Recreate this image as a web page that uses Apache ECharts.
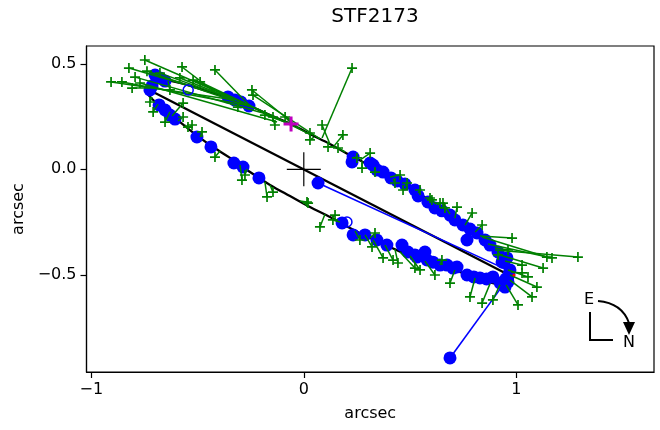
<!DOCTYPE html>
<html>
<head>
<meta charset="utf-8">
<script src="https://cdn.jsdelivr.net/npm/echarts@6/dist/echarts.min.js"></script>
<style>
  html, body { margin: 0; padding: 0; background: #fff; }
  #chart { width: 660px; height: 430px; }
</style>
</head>
<body>
<div id="chart"></div>
<script>
// STF2173 relative orbit, offsets in arcsec

// computed orbit (closed curve)
const orbitX = [-0.743, -0.728, -0.700, -0.653, -0.583, -0.488, -0.347, -0.253, -0.159, -0.060,
  0.029, 0.123, 0.232, 0.335, 0.429, 0.523, 0.617, 0.688, 0.759, 0.829, 0.900, 0.947, 0.975,
  0.984, 0.970, 0.937, 0.890, 0.843, 0.782, 0.688, 0.594, 0.500, 0.406, 0.312, 0.217, 0.123,
  0.029, -0.065, -0.159, -0.253, -0.347, -0.441, -0.536, -0.606, -0.667, -0.714, -0.743];
const orbitY = [0.371, 0.400, 0.418, 0.423, 0.409, 0.381, 0.338, 0.300, 0.257, 0.215,
  0.167, 0.120, 0.058, 0.006, -0.051, -0.103, -0.165, -0.212, -0.264, -0.316, -0.373, -0.420, -0.468,
  -0.510, -0.539, -0.548, -0.539, -0.525, -0.501, -0.473, -0.444, -0.411, -0.368, -0.326, -0.278, -0.226,
  -0.179, -0.127, -0.074, -0.013, 0.054, 0.115, 0.186, 0.243, 0.295, 0.333, 0.371];

// line of nodes
const nodeX = [-0.720, 0.970];
const nodeY = [0.372, -0.503];

// micrometric measures and their computed positions
const visX = [-0.748, -0.907, -0.856, -0.823, -0.794, -0.573, -0.418, -0.521, -0.488, -0.583,
  -0.630, -0.808, -0.724, -0.568, -0.709, -0.653, -0.568, -0.545, -0.479, -0.244,
  -0.239, -0.310, -0.145, -0.136, -0.183, -0.088, 0.227, 0.029, 0.029, 0.086,
  0.184, 0.114, 0.161, 0.312, 0.250, 0.274, 0.335, 0.453, 0.429, 0.486,
  0.467, 0.547, 0.594, 0.641, 0.664, 0.603, 0.721, 0.792, 0.839, 0.655,
  0.980, 0.961, 0.914, 1.144, 1.168, 1.126, 1.027, 1.055, 1.097, 1.074,
  1.008, 0.890, 0.839, 0.688, 0.650, 1.027, 1.290, 0.782, 0.020, 0.076,
  0.147, 0.137, 0.264, 0.335, 0.321, 0.373, 0.420, 0.443, 0.523, 0.547,
  0.617, -0.526, -0.418, -0.291, -0.277, -0.173, -0.145, 0.015, -0.677, -0.771,
  -0.738];
const visY = [0.518, 0.414, 0.414, 0.480, 0.437, 0.485, 0.471, 0.423, 0.414, 0.433,
  0.376, 0.385, 0.319, 0.314, 0.272, 0.224, 0.248, 0.200, 0.177, 0.376,
  0.352, 0.295, 0.248, 0.210, 0.257, 0.248, 0.480, 0.172, 0.139, 0.210,
  0.163, 0.106, 0.101, 0.077, 0.054, 0.006, -0.013, -0.027, -0.065, -0.065,
  -0.098, -0.098, -0.136, -0.160, -0.183, -0.145, -0.179, -0.207, -0.264, -0.160,
  -0.326, -0.382, -0.406, -0.416, -0.420, -0.468, -0.454, -0.510, -0.558, -0.605,
  -0.643, -0.619, -0.634, -0.539, -0.430, -0.491, -0.416, -0.605, -0.160, -0.273,
  -0.217, -0.240, -0.335, -0.302, -0.368, -0.420, -0.430, -0.444, -0.468, -0.477,
  -0.501, 0.210, 0.058, -0.051, -0.027, -0.131, -0.108, -0.155, 0.456, 0.409,
  0.465];
const visFitX = [-0.338, -0.324, -0.253, -0.488, -0.159, -0.418, -0.253, -0.065, 0.029, -0.347,
  -0.639, -0.724, -0.714, -0.620, -0.686, -0.630, -0.592, -0.559, -0.488, -0.018,
  0.076, -0.300, -0.168, -0.150, -0.060, -0.056, 0.086, 0.043, 0.048, 0.123,
  0.142, 0.152, 0.194, 0.264, 0.236, 0.274, 0.335, 0.406, 0.420, 0.476,
  0.490, 0.538, 0.594, 0.627, 0.664, 0.622, 0.711, 0.759, 0.806, 0.688,
  0.829, 0.900, 0.923, 0.839, 0.867, 0.923, 0.947, 0.961, 0.970, 0.970,
  0.952, 0.923, 0.876, 0.711, 0.641, 0.975, 0.900, 0.806, 0.006, 0.100,
  0.137, 0.170, 0.241, 0.312, 0.288, 0.326, 0.382, 0.429, 0.453, 0.500,
  0.570, -0.545, -0.394, -0.300, -0.267, -0.183, -0.159, -0.018, -0.338, -0.126,
  -0.206];
const visFitY = [0.338, 0.328, 0.300, 0.381, 0.257, 0.366, 0.300, 0.215, 0.167, 0.338,
  0.418, 0.385, 0.343, 0.253, 0.309, 0.272, 0.229, 0.210, 0.153, 0.191,
  0.144, 0.319, 0.262, 0.253, 0.215, 0.215, 0.148, 0.162, 0.153, 0.120,
  0.110, 0.106, 0.082, 0.044, 0.058, 0.039, 0.006, -0.036, -0.046, -0.079,
  -0.089, -0.112, -0.150, -0.169, -0.198, -0.165, -0.231, -0.264, -0.297, -0.212,
  -0.316, -0.373, -0.396, -0.321, -0.354, -0.406, -0.435, -0.477, -0.501, -0.525,
  -0.548, -0.548, -0.543, -0.477, -0.454, -0.487, -0.382, -0.515, -0.169, -0.212,
  -0.226, -0.250, -0.292, -0.326, -0.311, -0.335, -0.359, -0.378, -0.392, -0.411,
  -0.435, 0.196, 0.087, 0.020, 0.001, -0.060, -0.074, -0.150, 0.333, 0.224,
  0.281];

// interferometric measures
const spkX = [-0.700, -0.677, -0.653, -0.724, -0.714, -0.357, -0.324, -0.296, -0.258,
  0.232, 0.227, 0.312, 0.326, 0.344, 0.373, 0.410, 0.439, 0.476, 0.523, 0.538, 0.584, 0.617,
  0.650, 0.688, 0.711, 0.749, 0.782, 0.768, 0.815, 0.853, 0.876, 0.914, 0.933, 0.956, 0.970,
  0.961, 0.947, 0.890, 0.829, 0.768, 0.721, 0.702, 0.674, 0.641, 0.608, 0.580, 0.570, 0.532,
  0.523, 0.490, 0.462, 0.391, 0.344, 0.288, 0.232, 0.180, 0.937, 0.965, 0.950, 0.925, 0.860,
  0.800,
  -0.681, -0.653, -0.630, -0.606, -0.503, -0.437, -0.329, -0.286, -0.211,
  0.067, 0.688];
const spkY = [0.447, 0.433, 0.418, 0.376, 0.395, 0.343, 0.328, 0.319, 0.300,
  0.058, 0.035, 0.030, 0.020, -0.003, -0.013, -0.041, -0.055, -0.070, -0.098, -0.126, -0.155, -0.183,
  -0.197, -0.217, -0.240, -0.264, -0.283, -0.335, -0.302, -0.335, -0.359, -0.392, -0.439, -0.420, -0.477,
  -0.534, -0.558, -0.510, -0.515, -0.501, -0.463, -0.468, -0.454, -0.454, -0.440, -0.430, -0.392, -0.416,
  -0.406, -0.392, -0.359, -0.359, -0.335, -0.311, -0.311, -0.254, -0.440, -0.500, -0.520, -0.540, -0.520,
  -0.510,
  0.305, 0.281, 0.257, 0.238, 0.153, 0.106, 0.030, 0.011, -0.041,
  -0.065, -0.894];

// large interferometric residuals (measure -> computed position)
const spkOutX = [0.067, 0.688];
const spkOutY = [-0.065, -0.894];
const spkOutFitX = [0.947, 0.928];
const spkOutFitY = [-0.472, -0.562];

// open circles
const openX = [-0.544, 0.203];
const openY = [0.376, -0.250];

// periastron marker and the small red point
const periX = [-0.060];
const periY = [0.215];
const redX = [0.989];
const redY = [-0.501];

// axis ticks
const xTicks = [-1, 0, 1];
const yTicks = [-0.5, 0, 0.5];

const FONT = 'DejaVu Sans';
const pair = (xs, ys) => xs.map((x, i) => [x, ys[i]]);
const segs = (x0, y0, x1, y1) => x0.map((x, i) => ({ coords: [[x, y0[i]], [x1[i], y1[i]]] }));
const minus = s => s.replace('-', '\u2212');

const plusThin = 'path://M-0.35,-10H0.35V-0.35H10V0.35H0.35V10H-0.35V0.35H-10V-0.35H-0.35Z';
const plusMid = 'path://M-1.7,-10H1.7V-1.7H10V1.7H1.7V10H-1.7V1.7H-10V-1.7H-1.7Z';
const plusBold = 'path://M-2,-10H2V-2H10V2H2V10H-2V2H-10V-2H-2Z';

const chart = echarts.init(document.getElementById('chart'), null, { renderer: 'canvas' });

chart.setOption({
  animation: false,
  backgroundColor: '#fff',
  title: {
    text: 'STF2173',
    left: 370, top: 2, textAlign: 'center',
    textStyle: { fontFamily: FONT, fontSize: 20, fontWeight: 'normal', color: '#000' }
  },
  grid: {
    left: 86.5, top: 46, width: 567.5, height: 326,
    show: true, borderColor: '#000', borderWidth: 1.2, backgroundColor: '#fff'
  },
  xAxis: {
    type: 'value', min: -1.0226, max: 1.648,
    name: 'arcsec', nameLocation: 'middle', nameGap: 34,
    nameTextStyle: { fontFamily: FONT, fontSize: 16, color: '#000' },
    axisLine: { show: true, onZero: false, lineStyle: { color: '#000', width: 1.2 } },
    axisTick: { show: true, length: 6, customValues: xTicks, lineStyle: { color: '#000', width: 1.2 } },
    axisLabel: {
      customValues: xTicks, margin: 10,
      fontFamily: FONT, fontSize: 16, color: '#000',
      formatter: v => minus(String(Math.round(v)))
    },
    splitLine: { show: false }
  },
  yAxis: {
    type: 'value', min: -0.9607, max: 0.5844,
    name: 'arcsec', nameLocation: 'middle', nameGap: 58,
    nameTextStyle: { fontFamily: FONT, fontSize: 16, color: '#000' },
    axisLine: { show: true, onZero: false, lineStyle: { color: '#000', width: 1.2 } },
    axisTick: { show: true, length: 6, customValues: yTicks, lineStyle: { color: '#000', width: 1.2 } },
    axisLabel: {
      customValues: yTicks, margin: 10,
      fontFamily: FONT, fontSize: 16, color: '#000',
      formatter: v => minus(v.toFixed(1))
    },
    splitLine: { show: false }
  },
  graphic: [
    { type: 'text', x: 589, y: 300, style: { text: 'E', fontFamily: FONT, fontSize: 16, fill: '#000', align: 'center', verticalAlign: 'middle' } },
    { type: 'text', x: 629, y: 343, style: { text: 'N', fontFamily: FONT, fontSize: 16, fill: '#000', align: 'center', verticalAlign: 'middle' } },
    { type: 'polyline', shape: { points: [[590, 312], [590, 340], [613, 340]] }, style: { stroke: '#000', lineWidth: 2, fill: null } },
    { type: 'bezierCurve', shape: { x1: 598, y1: 301, cpx1: 622, cpy1: 303, x2: 629, y2: 323 }, style: { stroke: '#000', lineWidth: 2, fill: null } },
    { type: 'polygon', shape: { points: [[623, 322], [635, 322], [629, 335]] }, style: { fill: '#000' } }
  ],
  series: [
    {
      name: 'orbit', type: 'line', data: pair(orbitX, orbitY), smooth: 0.35,
      showSymbol: false, lineStyle: { color: '#000', width: 2.3 }, z: 2
    },
    {
      name: 'nodes', type: 'line', data: pair(nodeX, nodeY),
      showSymbol: false, lineStyle: { color: '#000', width: 2.3 }, z: 2
    },
    {
      name: 'speckle residuals', type: 'lines', coordinateSystem: 'cartesian2d',
      data: segs(spkOutX, spkOutY, spkOutFitX, spkOutFitY),
      lineStyle: { color: '#0000ff', width: 1.6, opacity: 1 }, z: 3
    },
    {
      name: 'speckle', type: 'scatter', data: pair(spkX, spkY),
      symbol: 'circle', symbolSize: 13, itemStyle: { color: '#0000ff', opacity: 1 }, z: 4
    },
    {
      name: 'visual residuals', type: 'lines', coordinateSystem: 'cartesian2d',
      data: segs(visX, visY, visFitX, visFitY),
      lineStyle: { color: '#008000', width: 1.5, opacity: 1 }, z: 5
    },
    {
      name: 'visual', type: 'scatter', data: pair(visX, visY),
      symbol: plusMid, symbolSize: 10, itemStyle: { color: '#008000', opacity: 1 }, z: 6
    },
    {
      name: 'open', type: 'scatter', data: pair(openX, openY),
      symbol: 'circle', symbolSize: 10,
      itemStyle: { color: 'rgba(0,0,0,0)', borderColor: '#0000ff', borderWidth: 1.5, opacity: 1 }, z: 7
    },
    {
      name: 'periastron', type: 'scatter', data: pair(periX, periY),
      symbol: plusBold, symbolSize: 15, itemStyle: { color: '#bf00bf', opacity: 1 }, z: 8
    },
    {
      name: 'primary', type: 'scatter', data: [[0, 0]],
      symbol: plusThin, symbolSize: 34, itemStyle: { color: '#000', opacity: 1 }, z: 8
    },
    {
      name: 'red', type: 'scatter', data: pair(redX, redY),
      symbol: 'circle', symbolSize: 3, itemStyle: { color: '#ff0000', opacity: 1 }, z: 9
    }
  ]
});
</script>
</body>
</html>
